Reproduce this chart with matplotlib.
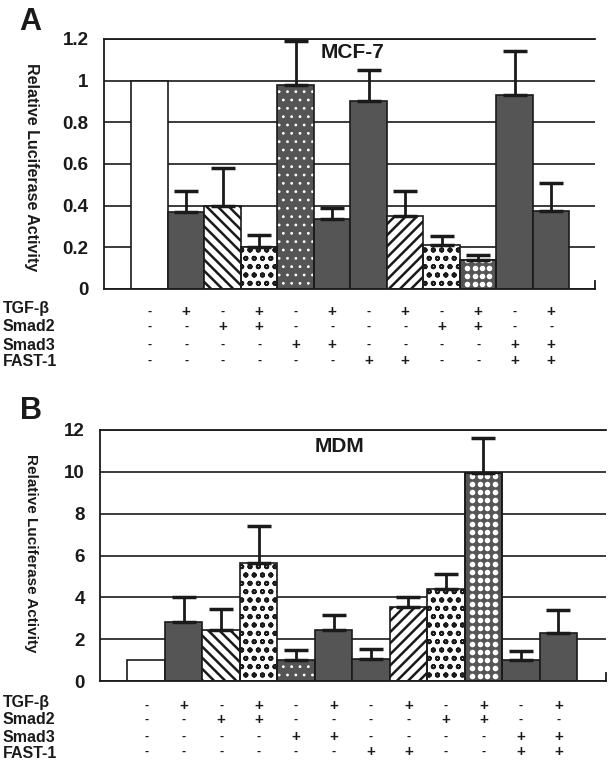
import matplotlib
matplotlib.use("Agg")
import matplotlib.pyplot as plt
import matplotlib.transforms as mtransforms
import numpy as np

plt.rcParams['font.family'] = ['Liberation Sans', 'DejaVu Sans']

# --- data ---
conditions = ["TGF-β", "Smad2", "Smad3", "FAST-1"]
tgf   = ["-", "+", "-", "+", "-", "+", "-", "+", "-", "+", "-", "+"]
smad2 = ["-", "-", "+", "+", "-", "-", "-", "-", "+", "+", "-", "-"]
smad3 = ["-", "-", "-", "-", "+", "+", "-", "-", "-", "-", "+", "+"]
fast1 = ["-", "-", "-", "-", "-", "-", "+", "+", "-", "-", "+", "+"]

mcf7_vals = [1.0, 0.37, 0.40, 0.20, 0.98, 0.335, 0.90, 0.35, 0.21, 0.14, 0.93, 0.375]
mcf7_err  = [0.0, 0.10, 0.18, 0.06, 0.21, 0.055, 0.15, 0.12, 0.045, 0.025, 0.21, 0.135]

mdm_vals = [1.0, 2.8, 2.45, 5.65, 1.0, 2.45, 1.05, 3.55, 4.4, 9.95, 1.0, 2.3]
mdm_err  = [0.0, 1.2, 1.0, 1.75, 0.5, 0.7, 0.48, 0.45, 0.7, 1.65, 0.45, 1.1]

# bar fill style per condition
styles = ["white", "dark", "bslash", "dots", "wdots", "dark",
          "dark", "fslash", "dots", "bigdots", "dark", "dark"]

W, H = 615, 767
fig = plt.figure(figsize=(W / 100, H / 100), dpi=100)
ink = "#1a1a1a"
dark = "#555555"


def fx(px):
    return px / W


def fy(py):
    return 1 - py / H


def white_dots(ax, xc, top, bar):
    # grid of white dots inside a dark bar, spacing ~8 px
    px_per_unit = ax.get_position().height * H / ax.get_ylim()[1]
    step = 8.0 / px_per_unit
    ys = np.arange(step * 0.6, top, step)
    cols = np.array([-0.3, -0.1, 0.1, 0.3])
    gx, gy = np.meshgrid(xc + cols, ys)
    sc = ax.scatter(gx.ravel(), gy.ravel(), s=16, c="white", linewidths=0, zorder=2.05)
    sc.set_clip_path(bar)


def draw_bars(ax, vals, errs):
    x = np.arange(len(vals))
    for i, st in enumerate(styles):
        if st == "white":
            ax.bar(x[i], vals[i], 1.0, color="white", edgecolor=ink, lw=1.2, zorder=2)
        elif st == "dark":
            ax.bar(x[i], vals[i], 1.0, color=dark, edgecolor=ink, lw=1.2, zorder=2)
        elif st == "bigdots":
            b = ax.bar(x[i], vals[i], 1.0, color=dark, edgecolor=ink, lw=1.2, zorder=2)
            white_dots(ax, x[i], vals[i], b[0])
            ax.bar(x[i], vals[i], 1.0, fill=False, edgecolor=ink, lw=1.2, zorder=2.1)
        else:
            # hatched bars: fill + hatch first, black outline on top
            if st == "bslash":
                fc, hc, h, hlw = "white", ink, "\\\\\\", 1.8
            elif st == "fslash":
                fc, hc, h, hlw = "white", ink, "///", 1.8
            elif st == "dots":
                fc, hc, h, hlw = "white", ink, "oo", 1.3
            else:
                fc, hc, h, hlw = dark, "white", "..", 0.8
            with plt.rc_context({"hatch.linewidth": hlw}):
                ax.bar(x[i], vals[i], 1.0, color=fc, edgecolor=hc, hatch=h, lw=0, zorder=2)
            ax.bar(x[i], vals[i], 1.0, fill=False, edgecolor=ink, lw=1.2, zorder=2.1)
    keep = [i for i in range(len(vals)) if errs[i] > 0]
    ax.errorbar([x[i] for i in keep], [vals[i] for i in keep],
                yerr=[np.zeros(len(keep)), [errs[i] for i in keep]],
                fmt="none", ecolor=ink, elinewidth=2, capsize=8.5, capthick=2.5, zorder=3)


def style_axes(ax, ymax, step, labels, rtick):
    ax.set_ylim(0, ymax)
    ax.set_yticks(np.arange(0, ymax + step / 2, step))
    ax.set_yticklabels(labels, fontsize=13.5, fontweight="bold", color=ink)
    ax.set_xticks([])
    ax.tick_params(axis="y", length=0, pad=11)
    ax.yaxis.grid(True, color=ink, lw=1.2)
    ax.set_axisbelow(True)
    for s in ["left", "bottom", "top", "right"]:
        ax.spines[s].set_color(ink)
        ax.spines[s].set_linewidth(1.3)
    ax.spines["right"].set_bounds(0, rtick)


def draw_table(ax, rows_y, label_y):
    trans = mtransforms.blended_transform_factory(ax.transData, fig.transFigure)
    for name, signs, ry, ly in zip(conditions, [tgf, smad2, smad3, fast1], rows_y, label_y):
        fig.text(fx(3), fy(ly), name, fontsize=11.5, fontweight="bold", color=ink,
                 ha="left", va="center")
        for i, s in enumerate(signs):
            ax.text(i, fy(ry), s, transform=trans, fontsize=11 if s == "+" else 9,
                    fontweight="bold", color=ink, ha="center", va="center")


# ---------- panel A ----------
axA = fig.add_axes([fx(104), fy(289), fx(595 - 104), (289 - 39) / H])
axA.set_xlim(-1.25, 12.2)
style_axes(axA, 1.2, 0.2, ["0", "0.2", "0.4", "0.6", "0.8", "1", "1.2"], 0.04)
draw_bars(axA, mcf7_vals, mcf7_err)
fig.text(fx(353), fy(52), "MCF-7", fontsize=15, fontweight="bold", color=ink,
         ha="center", va="center")
fig.text(fx(30), fy(22), "A", fontsize=22, fontweight="bold", color=ink,
         ha="center", va="center")
fig.text(fx(31), fy(167), "Relative Luciferase Activity", fontsize=11.5,
         fontweight="bold", color=ink, rotation=270, ha="center", va="center")
draw_table(axA, [312, 327, 345, 361], [309, 326, 345, 361])

# ---------- panel B ----------
axB = fig.add_axes([fx(100), fy(681), fx(606 - 100), (681 - 430) / H])
axB.set_xlim(-1.23, 12.27)
style_axes(axB, 12, 2, ["0", "2", "4", "6", "8", "10", "12"], 0.4)
draw_bars(axB, mdm_vals, mdm_err)
fig.text(fx(339), fy(447), "MDM", fontsize=15, fontweight="bold", color=ink,
         ha="center", va="center")
fig.text(fx(31), fy(411), "B", fontsize=22, fontweight="bold", color=ink,
         ha="center", va="center")
fig.text(fx(31), fy(553), "Relative Luciferase Activity", fontsize=11,
         fontweight="bold", color=ink, rotation=270, ha="center", va="center")
draw_table(axB, [706, 720, 737, 752], [703, 719, 737, 753])

fig.savefig("out.png", dpi=100)
